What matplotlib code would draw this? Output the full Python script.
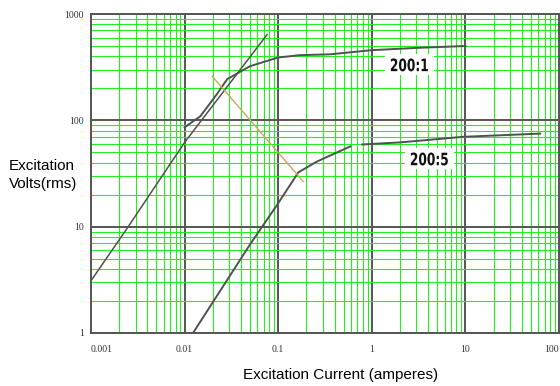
import matplotlib
matplotlib.use('Agg')
import matplotlib.pyplot as plt
from matplotlib.ticker import LogLocator, NullFormatter, FixedLocator
from matplotlib.textpath import TextPath
from matplotlib.patches import PathPatch, Rectangle
from matplotlib.font_manager import FontProperties
from matplotlib.transforms import Affine2D, IdentityTransform

# excitation curve data (current in A, voltage in V rms)
knee_line_i = [0.001, 0.0025, 0.01, 0.076]
knee_line_v = [3.1, 10, 62, 640]

ratio_1_i = [0.01, 0.0147, 0.0222, 0.0285, 0.05, 0.1, 0.17, 0.36, 1, 3, 10]
ratio_1_v = [86, 109, 177, 244, 323, 390, 410, 418, 457, 480, 500]

ratio_5a_i = [0.0123, 0.05, 0.0977, 0.164, 0.26, 0.59]
ratio_5a_v = [1.0, 6.8, 16.1, 32.4, 41, 56.9]
ratio_5b_i = [0.79, 2.0, 9.5, 63]
ratio_5b_v = [59.3, 62, 70, 75]

slope_i = [0.0197, 0.185]
slope_v = [260, 26.6]

curve_labels = ['200:1', '200:5']
curve_label_pos = [(2.52, 332), (4.12, 43.3)]

x_ticks = [0.001, 0.01, 0.1, 1, 10, 100]
x_labels = ['0.001', '0.01', '0.1', '1', '10', '100']
y_ticks = [1, 10, 100, 1000]
y_labels = ['1', '10', '100', '1000']

GREEN = '#22ee22'
MAJOR = '#555555'
CURVE = '#505050'


def narrow_label(ax, text, x, y, width_px, height_px):
    # bold text squeezed horizontally, like the narrow font of the original
    tp = TextPath((0, 0), text, size=1, prop=FontProperties(family='DejaVu Sans', weight='bold'))
    bb = tp.get_extents()
    px, py = ax.transData.transform((x, y))
    ax.add_patch(Rectangle((px - width_px / 2 - 6, py - height_px / 2 - 4), width_px + 12, height_px + 8,
                           transform=IdentityTransform(), facecolor='white', edgecolor='none', zorder=3))
    tr = (Affine2D().translate(-(bb.x0 + bb.width / 2), -(bb.y0 + bb.height / 2))
          .scale(width_px / bb.width, height_px / bb.height).translate(px, py))
    ax.add_patch(PathPatch(tr.transform_path(tp), transform=IdentityTransform(),
                           facecolor='#111111', edgecolor='none', zorder=4))


fig = plt.figure(figsize=(5.6, 3.86), dpi=100)
ax = fig.add_axes([91 / 560, 53 / 386, 468 / 560, 319 / 386])
ax.set_xscale('log')
ax.set_yscale('log')
ax.set_xlim(0.001, 100)
ax.set_ylim(1, 1000)

ax.xaxis.set_minor_locator(LogLocator(base=10, subs=range(2, 10)))
ax.yaxis.set_minor_locator(LogLocator(base=10, subs=range(2, 10)))
ax.xaxis.set_minor_formatter(NullFormatter())
ax.yaxis.set_minor_formatter(NullFormatter())
ax.grid(True, which='minor', color=GREEN, linewidth=0.8)
ax.grid(True, which='major', color=MAJOR, linewidth=1.4)
ax.set_axisbelow(True)
for s in ax.spines.values():
    s.set_color(MAJOR)
    s.set_linewidth(1.4)

ax.xaxis.set_major_locator(FixedLocator(x_ticks))
ax.yaxis.set_major_locator(FixedLocator(y_ticks))
ax.set_xticklabels(x_labels)
ax.set_yticklabels(y_labels)
ax.tick_params(which='both', length=0)
ax.tick_params(axis='x', pad=9)
ax.tick_params(axis='y', pad=5)
for lab in ax.get_xticklabels() + ax.get_yticklabels():
    lab.set_family('Liberation Serif')
    lab.set_fontsize(7)
    lab.set_color('#333333')
ax.get_xticklabels()[0].set_horizontalalignment('left')
ax.get_xticklabels()[-1].set_horizontalalignment('right')

ax.plot(knee_line_i, knee_line_v, color=CURVE, linewidth=1.1)
ax.plot(ratio_1_i, ratio_1_v, color=CURVE, linewidth=1.4)
ax.plot(ratio_5a_i, ratio_5a_v, color=CURVE, linewidth=1.4)
ax.plot(ratio_5b_i, ratio_5b_v, color=CURVE, linewidth=1.4)
ax.plot(slope_i, slope_v, color='#c8a860', linewidth=1.0)

for txt, (lx, ly) in zip(curve_labels, curve_label_pos):
    narrow_label(ax, txt, lx, ly, 37, 13)

fig.text(9 / 560, 1 - 175 / 386, 'Excitation\nVolts(rms)', family='Liberation Sans',
         fontsize=11, ha='left', va='center', linespacing=1.3)
fig.text(341 / 560, 1 - 375 / 386, 'Excitation Current (amperes)',
         family='Liberation Sans', fontsize=11, ha='center', va='center')

fig.savefig('out.png', dpi=100)
